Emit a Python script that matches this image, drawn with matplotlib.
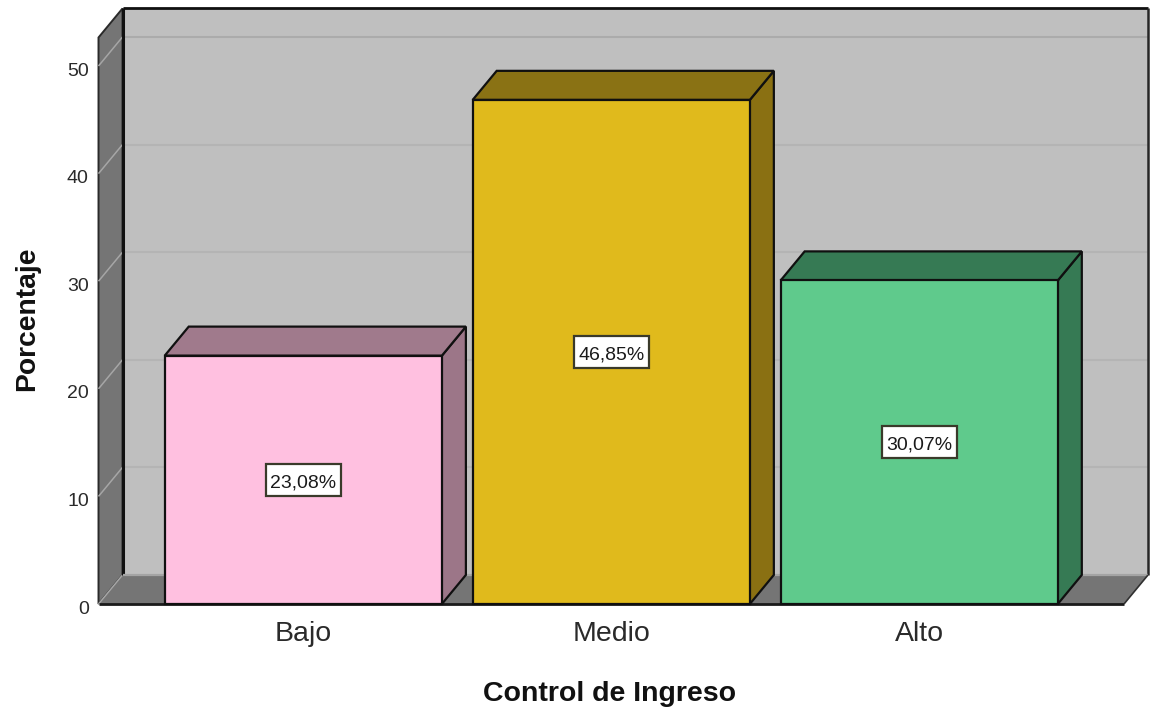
import matplotlib.pyplot as plt
from matplotlib.patches import Polygon, Rectangle
from matplotlib.transforms import ScaledTranslation

plt.rcParams['font.family'] = ['Liberation Sans', 'DejaVu Sans']

categorias = ["Bajo", "Medio", "Alto"]
porcentajes = [23.08, 46.85, 30.07]
etiquetas = ["23,08%", "46,85%", "30,07%"]
marcas_y = [0, 10, 20, 30, 40, 50]

color_frente = ["#FFC0E0", "#E0BA1C", "#5FCA8C"]
color_techo = ["#A07A8C", "#8A7214", "#367A54"]
color_lado = ["#9C7688", "#8A7012", "#367A54"]

ancho = 1155
alto = 708
x0, x1 = 98.5, 1124.0
y_cero, y_tope = 604.0, 37.5
px_por_unidad = 10.76
dx = 0.078    # profundidad en unidades de categoria
dy = 2.70     # profundidad en unidades de porcentaje

fig = plt.figure(figsize=(ancho / 100, alto / 100), dpi=100)
ax = fig.add_axes([x0 / ancho, 1 - y_cero / alto, (x1 - x0) / ancho, (y_cero - y_tope) / alto])
xmin, xmax = -0.665, 2.665
ymax = (y_cero - y_tope) / px_por_unidad
ax.set_xlim(xmin, xmax)
ax.set_ylim(0, ymax)
ax.patch.set_visible(False)
for s in ax.spines.values():
    s.set_visible(False)


def poly(puntos, color, ec="#101010", lw=1.6, z=1):
    ax.add_patch(Polygon(puntos, closed=True, fc=color, ec=ec, lw=lw, zorder=z,
                         clip_on=False, joinstyle="miter"))


def linea(xs, ys, color, lw, z):
    ax.plot(xs, ys, color=color, lw=lw, zorder=z, clip_on=False, solid_capstyle="butt")


# pared del fondo, pared izquierda y piso
poly([(xmin + dx, dy), (xmax + dx, dy), (xmax + dx, ymax + dy), (xmin + dx, ymax + dy)], "#BFBFBF", ec="none", lw=0)
poly([(xmin, 0), (xmin + dx, dy), (xmin + dx, ymax + dy), (xmin, ymax)], "#757575", ec="#2A2A2A", lw=1.4, z=2)
poly([(xmin, 0), (xmax, 0), (xmax + dx, dy), (xmin + dx, dy)], "#757575", ec="none", lw=0, z=2)

# contornos de las paredes
linea([xmin + dx, xmax + dx], [ymax + dy, ymax + dy], "#101010", 2.0, 3)
linea([xmax + dx, xmax + dx], [dy, ymax + dy], "#262626", 1.8, 3)
linea([xmin + dx, xmin + dx], [dy, ymax + dy], "#101010", 2.2, 3)
linea([xmin + dx, xmax + dx], [dy, dy], "#A4A4A4", 1.6, 3)
linea([xmin, xmax], [0, 0], "#1A1A1A", 2.0, 3)
linea([xmax, xmax + dx], [0, dy], "#303030", 1.2, 3)

# lineas de division en las paredes
for v in marcas_y:
    if v > 0:
        color_div = "#ABABAB" if v == 50 else "#B4B4B4"
        linea([xmin + dx, xmax + dx], [v + dy, v + dy], color_div, 1.5, 1.5)
    linea([xmin, xmin + dx], [v, v + dy], "#A6A6A6", 1.1, 2.5)

# barras con su cara superior y lateral
w = 0.9
caja_w = 75 / 308
caja_h = 32 / px_por_unidad
for i, v in enumerate(porcentajes):
    izq, der = i - w / 2, i + w / 2
    poly([(der, 0), (der + dx, dy), (der + dx, v + dy), (der, v)], color_lado[i], z=4)
    poly([(izq, v), (der, v), (der + dx, v + dy), (izq + dx, v + dy)], color_techo[i], z=4)
    ax.add_patch(Rectangle((izq, 0), w, v, fc=color_frente[i], ec="#101010", lw=1.6, zorder=5, clip_on=False))
    ax.add_patch(Rectangle((i - caja_w / 2, v / 2 - caja_h / 2), caja_w, caja_h, fc="white",
                           ec="#3A3A2A", lw=1.6, zorder=6))
    ax.text(i, v / 2 - 0.08, etiquetas[i], ha="center", va="center_baseline", fontsize=14, color="#1A1A1A", zorder=7)

ax.set_xticks(range(len(categorias)))
ax.set_xticklabels(categorias, fontsize=20.5, color="#2A2A2A")
ax.set_yticks(marcas_y)
ax.set_yticklabels([str(v) for v in marcas_y], fontsize=14, color="#2A2A2A")
ax.tick_params(axis="x", length=0, pad=12)
ax.tick_params(axis="y", length=0, pad=7)

# las cifras del eje quedan un poco por debajo de su division
baja = ScaledTranslation(0, -3 / 100, fig.dpi_scale_trans)
for lab in ax.get_yticklabels():
    lab.set_transform(lab.get_transform() + baja)

fig.text(610 / ancho, 1 - 691 / alto, "Control de Ingreso", ha="center", va="center_baseline",
         fontsize=20.5, fontweight="bold", color="#111111")
fig.text(27 / ancho, 1 - 319 / alto, "Porcentaje", ha="center", va="center", rotation=90,
         fontsize=20.3, fontweight="bold", color="#111111")

fig.savefig("out.png", dpi=100)
